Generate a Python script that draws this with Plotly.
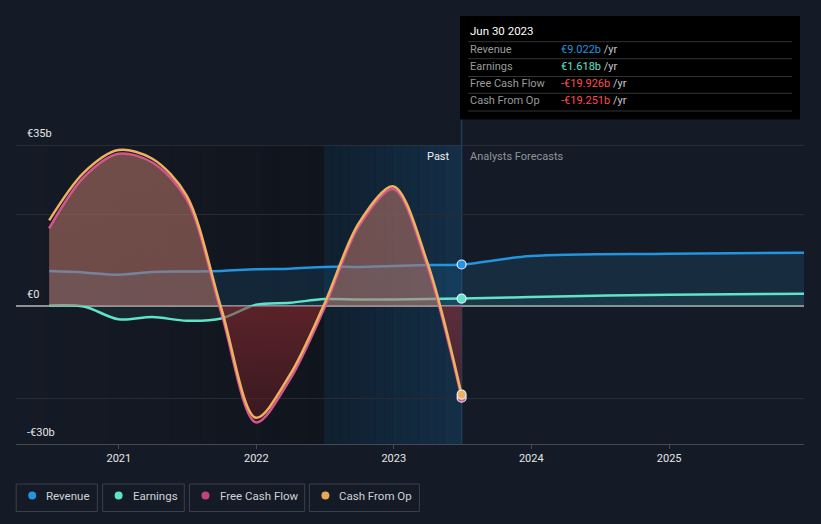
import plotly.graph_objects as go
import pandas as pd

# ---------------- data (in € billions) ----------------
past_dates = ["2020-06-30", "2020-09-30", "2020-12-31", "2021-03-31", "2021-06-30",
              "2021-09-30", "2021-12-31", "2022-03-31", "2022-06-30", "2022-09-30",
              "2022-12-31", "2023-03-31", "2023-06-30"]
forecast_dates = ["2023-12-31", "2024-12-31", "2025-12-31"]

revenue_past = [7.6, 7.3, 6.8, 7.4, 7.5, 7.6, 8.0, 8.1, 8.5, 8.5, 8.7, 8.9, 9.022]
revenue_forecast = [10.85, 11.35, 11.6]
earnings_past = [0.1, -0.1, -2.9, -2.4, -3.2, -2.7, 0.3, 0.7, 1.5, 1.4, 1.4, 1.5, 1.618]
earnings_forecast = [1.95, 2.47, 2.69]
fcf_past = [16.9, 28.0, 33.1, 31.2, 23.2, -1.5, -25.3, -16.0, -0.6, 17.3, 25.4, 8.6, -19.926]
cfo_past = [18.6, 29.0, 33.9, 32.0, 24.0, -0.5, -24.3, -15.0, 0.3, 18.0, 26.0, 9.5, -19.251]

x_ticks = ["2021-01-01", "2022-01-01", "2023-01-01", "2024-01-01", "2025-01-01"]
x_tick_labels = ["2021", "2022", "2023", "2024", "2025"]
y_labels = [(35, "€35b"), (0, "€0"), (-30, "-€30b")]

tooltip_date = "Jun 30 2023"
tooltip_rows = [("Revenue", "€9.022b", "#2394df"),
                ("Earnings", "€1.618b", "#5fe3c9"),
                ("Free Cash Flow", "-€19.926b", "#ff4d4d"),
                ("Cash From Op", "-€19.251b", "#ff4d4d")]

legend_items = [("Revenue", "#2394df"), ("Earnings", "#5fe3c9"),
                ("Free Cash Flow", "#c2427c"), ("Cash From Op", "#e5a855")]

# ---------------- styling / geometry ----------------
W, H = 821, 524
L, R, T, B = 16, 804, 145, 444
BG = "#151b26"
FONT = "Roboto"
x_range = ["2020-04-03", "2025-12-25"]
y_range = [-30, 35]
split_date = "2022-06-30"
now_date = past_dates[-1]


def pxx(p):
    return (p - L) / (R - L)


def pxy(p):
    return (B - p) / (B - T)


fig = go.Figure()

rev_x = past_dates + forecast_dates
rev_y = revenue_past + revenue_forecast
earn_y = earnings_past + earnings_forecast

fig.add_trace(go.Scatter(
    x=rev_x, y=rev_y, mode="lines",
    line=dict(color="#2394df", width=2.5, shape="spline", smoothing=0.9),
    fill="tozeroy", fillcolor="rgba(35,148,223,0.14)", hoverinfo="skip"))
fig.add_trace(go.Scatter(
    x=rev_x, y=earn_y, mode="lines",
    line=dict(color="#5fe3c9", width=2.5, shape="spline", smoothing=0.9),
    fill="tozeroy", fillcolor="rgba(95,227,201,0.07)", hoverinfo="skip"))

zero_pos = (0 - y_range[0]) / (y_range[1] - y_range[0])
fig.add_trace(go.Scatter(
    x=past_dates, y=fcf_past, mode="lines",
    line=dict(color="#d4568f", width=2.5, shape="spline", smoothing=0.9),
    fill="tozeroy",
    fillgradient=dict(type="vertical", start=y_range[0], stop=y_range[1],
                      colorscale=[[0, "rgba(70,22,28,0.6)"],
                                  [zero_pos - 0.0005, "rgba(150,45,50,0.55)"],
                                  [zero_pos + 0.0005, "rgba(186,116,102,0.55)"],
                                  [1, "rgba(190,120,105,0.55)"]]),
    hoverinfo="skip"))
fig.add_trace(go.Scatter(
    x=past_dates, y=cfo_past, mode="lines",
    line=dict(color="#eeb25f", width=2.5, shape="spline", smoothing=0.9),
    hoverinfo="skip"))

# end-of-past markers
for series, color in [(revenue_past, "#2394df"), (earnings_past, "#5fe3c9"),
                      (fcf_past, "#d4568f"), (cfo_past, "#eeb25f")]:
    fig.add_trace(go.Scatter(
        x=[now_date], y=[series[-1]], mode="markers",
        marker=dict(color=color, size=9, line=dict(color="#e8eef5", width=1.2)),
        hoverinfo="skip"))

shapes = []


def lerp(c0, c1, t):
    return "rgb(%d,%d,%d)" % tuple(round(a + (b - a) * t) for a, b in zip(c0, c1))


# darker past region (gradient)
n = 20
edges = pd.date_range(x_range[0], split_date, periods=n + 1)
for i in range(n):
    shapes.append(dict(type="rect", xref="x", yref="paper",
                       x0=edges[i], x1=edges[i + 1], y0=0, y1=1,
                       fillcolor=lerp((21, 27, 38), (16, 20, 29), (i + 0.5) / n),
                       line=dict(width=0), layer="below"))
# highlighted last year (gradient)
n = 16
edges = pd.date_range(split_date, now_date, periods=n + 1)
for i in range(n):
    shapes.append(dict(type="rect", xref="x", yref="paper",
                       x0=edges[i], x1=edges[i + 1], y0=0, y1=1,
                       fillcolor=lerp((15, 31, 46), (20, 47, 71), (i + 0.5) / n),
                       line=dict(width=0), layer="below"))

# top line
shapes.append(dict(type="line", xref="paper", yref="y", x0=0, x1=1, y0=35, y1=35,
                   line=dict(color="#3a3f49", width=1), layer="below"))
# tooltip vertical line
shapes.append(dict(type="line", xref="x", yref="paper", x0=now_date, x1=now_date,
                   y0=0, y1=pxy(16), line=dict(color="#1d3c5a", width=1.5), layer="below"))
# tooltip box
shapes.append(dict(type="rect", xref="paper", yref="paper",
                   x0=pxx(460), x1=pxx(800), y0=pxy(119.5), y1=pxy(16),
                   fillcolor="#000000", line=dict(width=0), layer="above"))
for sy in [41.7, 58.7, 76.5, 93.3, 111]:
    shapes.append(dict(type="line", xref="paper", yref="paper",
                       x0=pxx(468), x1=pxx(792), y0=pxy(sy), y1=pxy(sy),
                       line=dict(color="#333333", width=1), layer="above"))

annotations = []
annotations.append(dict(xref="paper", yref="paper", x=pxx(468), y=pxy(31),
                        text=tooltip_date, showarrow=False, xanchor="left", yanchor="middle",
                        font=dict(family=FONT, size=11.5, color="#ffffff")))
row_y = [49.3, 66.3, 84, 100.7]
for (lab, val, col), ry in zip(tooltip_rows, row_y):
    annotations.append(dict(xref="paper", yref="paper", x=pxx(468), y=pxy(ry),
                            text=lab, showarrow=False, xanchor="left", yanchor="middle",
                            font=dict(family=FONT, size=11, color="#9a9a9a")))
    annotations.append(dict(xref="paper", yref="paper", x=pxx(559), y=pxy(ry),
                            text="<span style='color:%s'>%s</span> /yr" % (col, val),
                            showarrow=False, xanchor="left", yanchor="middle",
                            font=dict(family=FONT, size=11, color="#c8c8c8")))

# Past / Forecast labels
annotations.append(dict(xref="paper", yref="paper", x=pxx(452), y=pxy(156),
                        text="Past", showarrow=False, xanchor="right", yanchor="middle",
                        font=dict(family=FONT, size=11, color="#f0f0f0")))
annotations.append(dict(xref="paper", yref="paper", x=pxx(468), y=pxy(156),
                        text="Analysts Forecasts", showarrow=False, xanchor="left",
                        yanchor="middle", font=dict(family=FONT, size=11, color="#8f949b")))

# y labels
for val, txt in y_labels:
    annotations.append(dict(xref="paper", yref="y", x=pxx(25), y=val, yshift=3,
                            text=txt, showarrow=False, xanchor="left", yanchor="bottom",
                            font=dict(family=FONT, size=11, color="#e6e6e6")))

# custom legend
boxes = [(16.2, 97.4), (102.6, 184.3), (189.5, 304.7), (309.4, 419.4)]
for (lab, col), (bx0, bx1) in zip(legend_items, boxes):
    shapes.append(dict(type="rect", xref="paper", yref="paper",
                       x0=pxx(bx0), x1=pxx(bx1), y0=pxy(511.5), y1=pxy(484),
                       fillcolor="rgba(0,0,0,0)", line=dict(color="#3a404b", width=1)))
    cx = bx0 + 16
    shapes.append(dict(type="circle", xref="paper", yref="paper",
                       x0=pxx(cx - 4), x1=pxx(cx + 4), y0=pxy(499.5), y1=pxy(491.5),
                       fillcolor=col, line=dict(width=0)))
    annotations.append(dict(xref="paper", yref="paper", x=pxx(bx0 + 28), y=pxy(495.8),
                            text=lab, showarrow=False, xanchor="left", yanchor="middle",
                            font=dict(family=FONT, size=11.5, color="#cfd2d6")))

fig.update_layout(
    width=W, height=H,
    margin=dict(l=L, r=W - R, t=T, b=H - B, pad=0),
    paper_bgcolor=BG, plot_bgcolor=BG,
    showlegend=False, hovermode=False,
    shapes=shapes, annotations=annotations,
    font=dict(family=FONT, color="#e6e6e6"),
    xaxis=dict(type="date", range=x_range, tickvals=x_ticks, ticktext=x_tick_labels,
               showgrid=False, zeroline=False, showline=True, linecolor="#454a55",
               linewidth=1, ticks="outside", ticklen=4, tickcolor="#454a55",
               tickfont=dict(family=FONT, size=11, color="#e6e6e6"), fixedrange=True),
    yaxis=dict(range=y_range, tickvals=[-20, 20], showticklabels=False,
               showgrid=True, gridcolor="#262b35", gridwidth=1,
               zeroline=True, zerolinecolor="#8d9095", zerolinewidth=1.5,
               showline=False, fixedrange=True),
)

fig.write_html(
    "out.html",
    config={"displayModeBar": False},
    post_script="document.body.style.margin='0';document.body.style.backgroundColor='%s';" % BG,
)
